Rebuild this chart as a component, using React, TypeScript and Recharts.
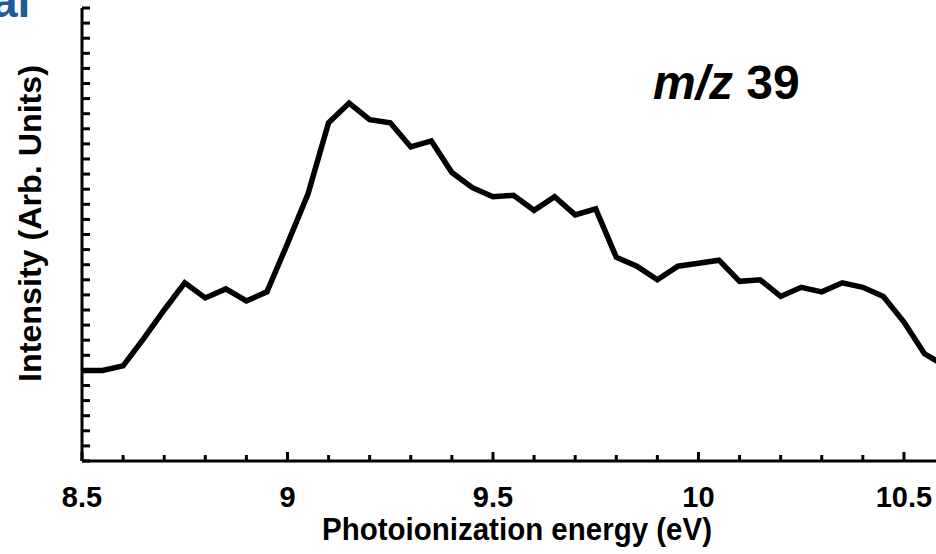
import { LineChart, Line, XAxis, YAxis, Label } from 'recharts';

// photoionization energy (eV), one point every 0.05 eV
const energies = [
  8.5, 8.55, 8.6, 8.65, 8.7, 8.75, 8.8, 8.85, 8.9, 8.95,
  9.0, 9.05, 9.1, 9.15, 9.2, 9.25, 9.3, 9.35, 9.4, 9.45,
  9.5, 9.55, 9.6, 9.65, 9.7, 9.75, 9.8, 9.85, 9.9, 9.95,
  10.0, 10.05, 10.1, 10.15, 10.2, 10.25, 10.3, 10.35, 10.4, 10.45,
  10.5, 10.55, 10.6,
];

// m/z 39 signal, arbitrary units
const intensity = [
  6.0, 6.0, 6.3, 8.1, 10.0, 11.8, 10.8, 11.4, 10.6, 11.2,
  14.4, 17.7, 22.4, 23.7, 22.6, 22.4, 20.8, 21.2, 19.1, 18.1,
  17.5, 17.6, 16.6, 17.5, 16.3, 16.7, 13.5, 12.9, 12.0, 12.9,
  13.1, 13.3, 11.9, 12.0, 10.9, 11.5, 11.2, 11.8, 11.5, 10.9,
  9.2, 7.1, 6.3,
];

const xTicks = [
  8.5, 8.6, 8.7, 8.8, 8.9, 9.0, 9.1, 9.2, 9.3, 9.4, 9.5,
  9.6, 9.7, 9.8, 9.9, 10.0, 10.1, 10.2, 10.3, 10.4, 10.5,
];
const yTicks = [
  0, 1, 2, 3, 4, 5, 6, 7, 8, 9, 10, 11, 12, 13, 14, 15,
  16, 17, 18, 19, 20, 21, 22, 23, 24, 25, 26, 27, 28, 29, 30,
];

const data = energies.map((e, i) => ({ energy: e, intensity: intensity[i] }));

const FONT = '"Liberation Sans", Arial, sans-serif';

const isMajor = (v: number) => Math.abs(v * 2 - Math.round(v * 2)) < 1e-6;

const XTick = ({ x, y, payload }: any) => {
  const major = isMajor(payload.value);
  return (
    <g>
      <line x1={x} x2={x} y1={y} y2={y - (major ? 9 : 6)} stroke="#000" strokeWidth={3} />
      {major && (
        <text x={x} y={y + 46} textAnchor="middle" fontSize={29} fontWeight="bold" fontFamily={FONT} fill="#000">
          {String(Math.round(payload.value * 10) / 10)}
        </text>
      )}
    </g>
  );
};

const YTick = ({ x, y }: any) => (
  <line x1={x} x2={x + 8} y1={y} y2={y} stroke="#000" strokeWidth={3} />
);

const XTitle = ({ viewBox }: any) => (
  <text
    x={viewBox.x + viewBox.width / 2 + 8}
    y={viewBox.y + 79}
    textAnchor="middle"
    fontSize={31}
    fontWeight="bold"
    fontFamily={FONT}
    textLength={390}
    lengthAdjust="spacingAndGlyphs"
    fill="#000"
  >
    Photoionization energy (eV)
  </text>
);

const YTitle = ({ viewBox }: any) => {
  const cx = 41;
  const cy = viewBox.y + viewBox.height / 2 - 11;
  return (
    <text
      x={cx}
      y={cy}
      transform={`rotate(-90, ${cx}, ${cy})`}
      textAnchor="middle"
      fontSize={31}
      fontWeight="bold"
      fontFamily={FONT}
      textLength={317}
      lengthAdjust="spacingAndGlyphs"
      fill="#000"
    >
      Intensity (Arb. Units)
    </text>
  );
};

export default function App() {
  return (
    <div style={{ position: 'absolute', left: 0, top: 0, width: 936, height: 554, background: '#fff' }}>
      <LineChart width={936} height={554} data={data} margin={{ top: 8, right: 0, bottom: 0, left: 0 }}>
        <XAxis
          dataKey="energy"
          type="number"
          domain={[8.5, 10.578]}
          allowDataOverflow
          ticks={xTicks}
          interval={0}
          tick={<XTick />}
          tickLine={false}
          tickSize={0}
          tickMargin={0}
          height={93}
          axisLine={{ stroke: '#000', strokeWidth: 3 }}
        >
          <Label content={<XTitle />} />
        </XAxis>
        <YAxis
          type="number"
          domain={[0, 30]}
          ticks={yTicks}
          interval={0}
          tick={<YTick />}
          tickLine={false}
          tickSize={0}
          tickMargin={0}
          width={82}
          axisLine={{ stroke: '#000', strokeWidth: 3 }}
        >
          <Label content={<YTitle />} />
        </YAxis>
        <Line
          type="linear"
          dataKey="intensity"
          stroke="#000"
          strokeWidth={5.5}
          dot={false}
          activeDot={false}
          isAnimationActive={false}
        />
        <text x={653} y={99} fontSize={48} fontWeight="bold" fontFamily={FONT} fill="#000">
          <tspan fontStyle="italic">m/z</tspan> 39
        </text>
        <text x={-8} y={17} fontSize={46} fontWeight="bold" fontFamily={FONT} fill="#1e5a9c">
          al
        </text>
      </LineChart>
    </div>
  );
}
